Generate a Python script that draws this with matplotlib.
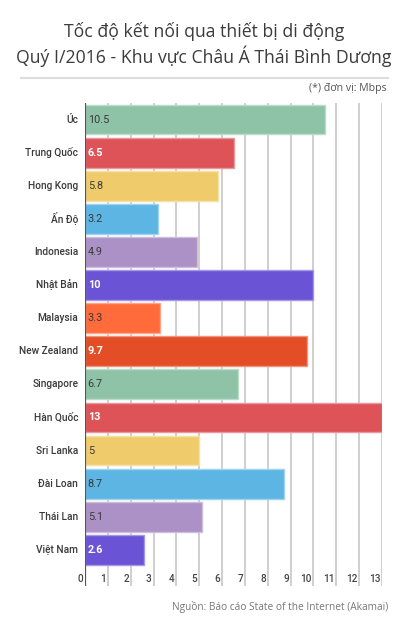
import matplotlib
matplotlib.use("Agg")
import matplotlib.pyplot as plt
import matplotlib.colors as mcolors

countries = ["Úc", "Trung Quốc", "Hong Kong", "Ấn Độ", "Indonesia", "Nhật Bản", "Malaysia",
             "New Zealand", "Singapore", "Hàn Quốc", "Sri Lanka", "Đài Loan", "Thái Lan", "Việt Nam"]
speeds = [10.5, 6.5, 5.8, 3.2, 4.9, 10, 3.3, 9.7, 6.7, 13, 5, 8.7, 5.1, 2.6]
value_labels = ["10.5", "6.5", "5.8", "3.2", "4.9", "10", "3.3", "9.7", "6.7", "13", "5", "8.7", "5.1", "2.6"]
bar_colors = ["#8fc3a7", "#dd5357", "#efcb6b", "#5db5e4", "#ab91c6", "#6b53d6", "#ff6b3b",
              "#e44e26", "#8fc3a7", "#dd5357", "#efcb6b", "#5db5e4", "#ab91c6", "#6b53d6"]
white_label = [False, True, False, False, False, True, False, True, False, True, False, False, False, True]
x_ticks = list(range(0, 14))

W, H = 409, 622
fig = plt.figure(figsize=(W / 100, H / 100), dpi=100)
fig.patch.set_facecolor("white")

def fx(px):
    return px / W

def fy(py):
    return 1 - py / H

ax_left, ax_right, ax_top, ax_bottom = 85, 382, 103, 586
ax = fig.add_axes([fx(ax_left), fy(ax_bottom), fx(ax_right - ax_left), (ax_bottom - ax_top) / H])
n = len(countries)
slot = 33.1
extra = (ax_bottom - ax_top - n * slot) / slot
ax.set_xlim(0, 13)
ax.set_ylim(n - 0.5 + extra, -0.5)

for v in x_ticks[1:]:
    ax.axvline(v, color="#cfcfcf", lw=1.4, zorder=0)

ys = list(range(n))
for i in range(n):
    c = bar_colors[i]
    rgb = mcolors.to_rgb(c)
    edge = tuple(0.6 * ch + 0.4 for ch in rgb)
    ax.barh(ys[i], speeds[i], height=0.9, color=c, edgecolor=edge, linewidth=1.0, zorder=2)
    if white_label[i]:
        ax.text(0.12, ys[i], value_labels[i], ha="left", va="center", color="white",
                fontsize=7.8, fontweight="bold", family="Roboto", zorder=3)
    else:
        ax.text(0.12, ys[i], value_labels[i], ha="left", va="center", color="#3a3a3a",
                fontsize=7.8, family="Roboto", zorder=3)
    ax.text(-0.3, ys[i], countries[i], ha="right", va="center", color="#3a3a3a",
            fontsize=7.3, family="Roboto", fontweight="medium")

ax.axvline(0, color="#555555", lw=1.6, zorder=4)

ytick = n - 0.5 + extra * 0.62
for v in x_ticks:
    ax.text(v - 0.08, ytick, str(v), ha="right", va="center", color="#444444",
            fontsize=7.2, family="Roboto", fontweight="medium", zorder=3)

ax.set_xticks([])
ax.set_yticks([])
for s in ax.spines.values():
    s.set_visible(False)
ax.patch.set_alpha(0)

fig.text(fx(204), fy(37), "Tốc độ kết nối qua thiết bị di động", ha="center", va="baseline",
         fontsize=12.7, family="Open Sans", color="#3c3c3c")
fig.text(fx(204), fy(63), "Quý I/2016 - Khu vực Châu Á Thái Bình Dương", ha="center", va="baseline",
         fontsize=12.7, family="Open Sans", color="#3c3c3c")
fig.add_artist(plt.Line2D([fx(21), fx(388)], [fy(78), fy(78)], color="#dddddd", lw=1.5))
fig.text(fx(387), fy(91), "(*) đơn vị: Mbps", ha="right", va="baseline",
         fontsize=7.6, family="Open Sans", color="#555555")
fig.text(fx(388), fy(610), "Nguồn: Báo cáo State of the Internet (Akamai)", ha="right", va="baseline",
         fontsize=7.3, family="Open Sans", color="#777777")

fig.savefig("out.png", dpi=100, facecolor="white")
